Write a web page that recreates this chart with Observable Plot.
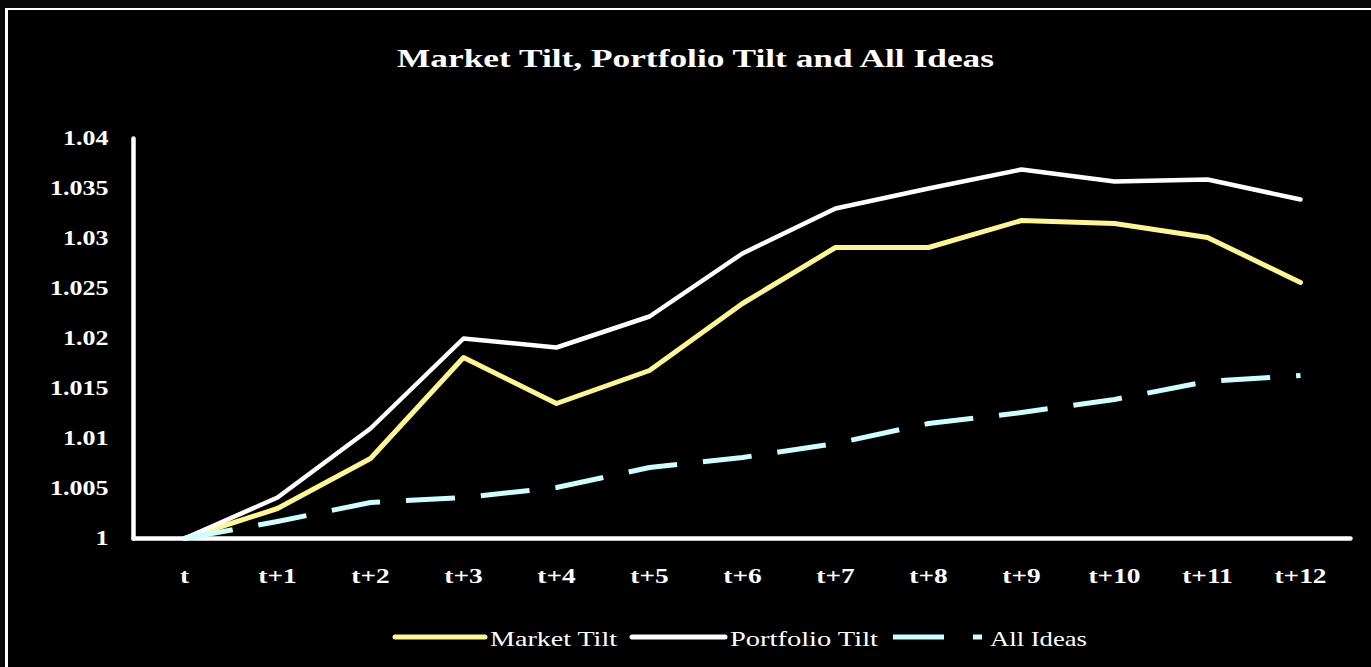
<!DOCTYPE html>
<html>
<head>
<meta charset="utf-8">
<script src="https://cdn.jsdelivr.net/npm/d3@7"></script>
<script src="https://cdn.jsdelivr.net/npm/@observablehq/plot@0.6"></script>
<style>
  html, body { margin: 0; padding: 0; background: #080808; overflow: hidden; }
  #wrap { position: relative; width: 1371px; height: 667px; }
  #box { position: absolute; left: 5px; top: 8px; width: 1400px; height: 700px;
         border-left: 3px solid #fff; border-top: 2px solid #fff; background: #000; }
  #plot { position: absolute; left: 0; top: 100px; }
  #over { position: absolute; left: 0; top: 0; }
</style>
</head>
<body>
<div id="wrap">
  <div id="box"></div>
  <div id="plot"></div>
  <svg id="over" width="1371" height="667"></svg>
</div>
<script>
const categories = ["t", "t+1", "t+2", "t+3", "t+4", "t+5", "t+6", "t+7", "t+8", "t+9", "t+10", "t+11", "t+12"];
const marketTilt    = [1.0000, 1.0030, 1.0080, 1.0181, 1.0135, 1.0168, 1.0235, 1.0291, 1.0291, 1.0318, 1.0315, 1.0301, 1.0256];
const portfolioTilt = [1.0000, 1.0041, 1.0110, 1.0200, 1.0191, 1.0222, 1.0285, 1.0330, 1.0350, 1.0369, 1.0357, 1.0359, 1.0339];
const allIdeas      = [1.0000, 1.0017, 1.0036, 1.0041, 1.0051, 1.0071, 1.0081, 1.0095, 1.0115, 1.0126, 1.0139, 1.0157, 1.0163];
const yTicks = [1, 1.005, 1.01, 1.015, 1.02, 1.025, 1.03, 1.035, 1.04];
const yTickLabels = ["1", "1.005", "1.01", "1.015", "1.02", "1.025", "1.03", "1.035", "1.04"];
const seriesNames = ["Market Tilt", "Portfolio Tilt", "All Ideas"];
const seriesColors = ["#FFF68F", "#FFFFFF", "#CCFFFF"];
const title = "Market Tilt, Portfolio Tilt and All Ideas";

const toRows = (vals, name) => categories.map((c, i) => ({cat: c, v: vals[i], series: name}));
const mRows = toRows(marketTilt, seriesNames[0]);
const pRows = toRows(portfolioTilt, seriesNames[1]);
const aRows = toRows(allIdeas, seriesNames[2]);

const chart = Plot.plot({
  width: 1371,
  height: 500,
  marginLeft: 133,
  marginRight: 21,
  marginTop: 38,
  marginBottom: 62,
  style: {background: "transparent", color: "#fff", fontFamily: "'Liberation Serif', serif", fontSize: "20px", fontWeight: "bold"},
  x: {type: "point", domain: categories, padding: 0.5, label: null},
  y: {domain: [1, 1.04], label: null},
  marks: [
    Plot.axisY({ticks: yTicks, tickSize: 0, tickPadding: 25, label: null, fontSize: 20,
                tickFormat: d => yTickLabels[yTicks.indexOf(d)]}),
    Plot.axisX({tickSize: 0, tickPadding: 30, label: null, fontSize: 21}),
    Plot.frame({anchor: "left", stroke: "#fff", strokeWidth: 4.5, strokeLinecap: "round"}),
    Plot.frame({anchor: "bottom", stroke: "#fff", strokeWidth: 4.5, strokeLinecap: "round"}),
    Plot.line(mRows, {x: "cat", y: "v", stroke: seriesColors[0], strokeWidth: 5, strokeLinejoin: "round", strokeLinecap: "round"}),
    Plot.line(pRows, {x: "cat", y: "v", stroke: seriesColors[1], strokeWidth: 4.5, strokeLinejoin: "round", strokeLinecap: "round"}),
    Plot.line(aRows, {x: "cat", y: "v", stroke: seriesColors[2], strokeWidth: 5, strokeDasharray: "49,26", strokeLinecap: "butt"})
  ]
});
document.getElementById("plot").appendChild(chart);

// stretch tick labels horizontally to mimic the wide Garamond rendering
chart.querySelectorAll("g[aria-label$='tick label'] text").forEach(t => {
  const w = t.getComputedTextLength();
  t.setAttribute("textLength", (w * 1.3).toFixed(1));
  t.setAttribute("lengthAdjust", "spacingAndGlyphs");
});

// title + legend overlay
const over = d3.select("#over");
over.append("text")
  .attr("x", 397).attr("y", 67)
  .attr("fill", "#fff")
  .attr("font-family", "'Liberation Serif', serif")
  .attr("font-weight", "bold")
  .attr("font-size", 26)
  .attr("textLength", 597)
  .attr("lengthAdjust", "spacingAndGlyphs")
  .text(title);

const legendY = 637;
const leg = [
  {x1: 395, x2: 485, tx: 490, tw: 127},
  {x1: 632, x2: 725, tx: 730, tw: 148},
  {x1: 893, x2: 944, tx: 990, tw: 97}
];
leg.forEach((l, i) => {
  if (i < 2) {
    over.append("line").attr("x1", l.x1).attr("x2", l.x2).attr("y1", legendY).attr("y2", legendY)
      .attr("stroke", seriesColors[i]).attr("stroke-width", 5).attr("stroke-linecap", "round");
  } else {
    over.append("line").attr("x1", l.x1).attr("x2", 982).attr("y1", legendY).attr("y2", legendY)
      .attr("stroke", seriesColors[i]).attr("stroke-width", 5).attr("stroke-dasharray", "51,29");
  }
  over.append("text").attr("x", l.tx).attr("y", 646)
    .attr("fill", "#fff")
    .attr("font-family", "'Liberation Serif', serif")
    .attr("font-size", 21)
    .attr("textLength", l.tw)
    .attr("lengthAdjust", "spacingAndGlyphs")
    .text(seriesNames[i]);
});
</script>
</body>
</html>
